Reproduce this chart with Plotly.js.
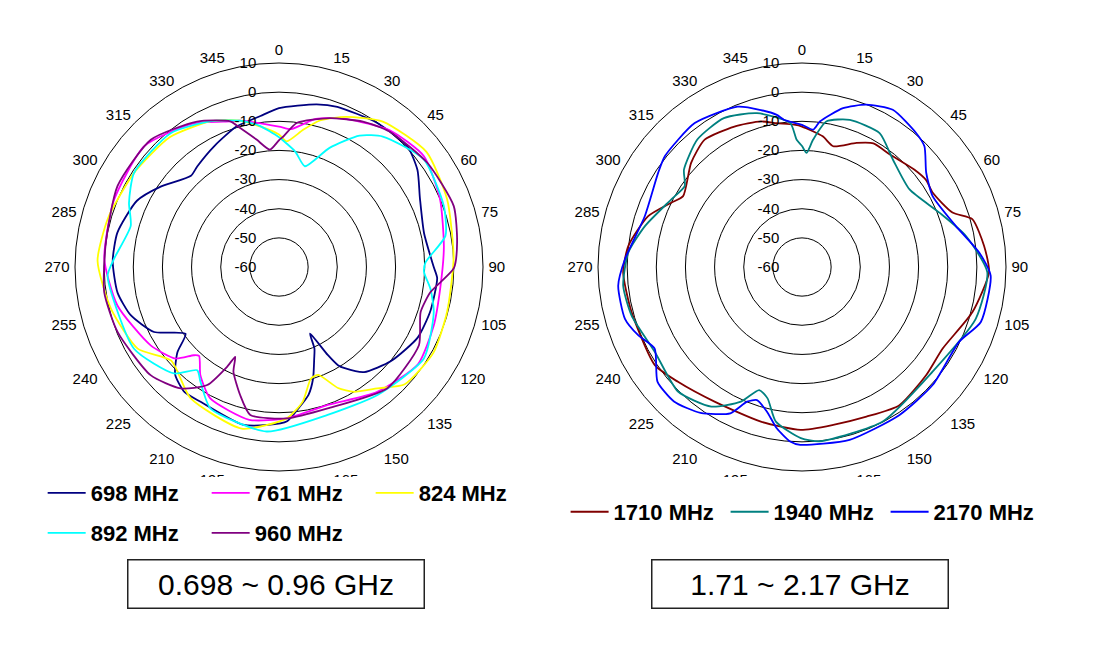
<!DOCTYPE html>
<html>
<head>
<meta charset="utf-8">
<script src="https://cdn.plot.ly/plotly-3.0.1.min.js"></script>
<style>
  html, body { margin: 0; padding: 0; background: #fff; }
  #chart { width: 1094px; height: 653px; }
</style>
</head>
<body>
<div id="chart"></div>
<script>
// radiation patterns, dB vs angle (deg, clockwise from top)
var theta698 = [0, 13, 20, 34, 47, 55, 64, 77, 90, 94, 106, 117, 130, 141, 147, 149, 151, 155, 156.5, 159, 163, 167, 172, 177, 184, 193, 210, 217, 224, 230, 234.5, 242.5, 252, 261, 272, 282, 295, 304, 316, 321, 332, 343, 353, 360];
var r698 = [-5.5, -2.7, -1.5, -0.2, 0.4, -2, -6.2, -8.9, -6.9, -5.6, -5.9, -6.6, -9.8, -13.6, -18.6, -20.7, -25.5, -34.8, -29.5, -26.3, -20, -15, -11.2, -7, -5.7, -4.5, -6.5, -6.2, -8.7, -14.5, -20.6, -11.7, -6.5, -3.9, -2.9, -3.3, -6.2, -10.8, -16.5, -15.5, -12.9, -9.7, -7.8, -5.5];

var theta761 = [0, 5, 14, 24.5, 39, 52.6, 67, 83, 97, 111, 125, 142, 160.5, 177, 191, 207.6, 216, 222, 224, 228.5, 238.6, 256.6, 272.6, 292, 312, 329, 341.5, 345, 360];
var r761 = [-11.8, -12.5, -7.6, -4.2, 0.4, 2.6, 0, -3, -4.2, -3.2, -1.8, -5.5, -9.8, -8, -6.6, -9.1, -14.1, -19, -17.9, -12.6, -8.4, -3, 0, 1.1, 2.1, -2.6, -7.3, -8, -11.8];

var theta824 = [0, 3.5, 10, 15.6, 24, 35.5, 52, 68, 87, 105, 119, 133, 141, 149, 154, 160, 164, 170, 177, 193, 214, 229, 240, 256, 272, 286, 303, 320, 335, 345, 356, 360];
var r824 = [-14.5, -16.8, -12.2, -7.8, -3.6, 1.3, 4.2, 2.2, 0, -0.3, 0.6, -1, -6.4, -10, -13.8, -20.6, -20.2, -13.1, -8, -3.1, -5.7, -11, -4, -0.6, 2.3, 1, -0.7, -1.8, -4.8, -8, -12.8, -14.5];

var theta892 = [0, 8, 14.4, 23, 31.5, 38.5, 53.4, 69.7, 79.4, 88.2, 92, 98.2, 106.2, 122.3, 142.4, 161.8, 184.3, 205.9, 214.4, 218.4, 224.6, 240.6, 267, 272.8, 285.5, 293.2, 303, 321, 335, 345, 352, 360];
var r892 = [-15.5, -20, -24.3, -15.6, -7.1, -2.8, 1.9, 0.3, -1.9, -9.7, -10.2, -7.5, -4.7, -1.2, -4.6, -6.6, -3.4, -6.1, -12.3, -14.8, -8.7, -2.9, -1.1, -3.3, -7.2, -4, -0.7, -0.9, -4.8, -8, -11, -15.5];

var theta960 = [0, 1.9, 7, 18.8, 30, 39.2, 54.9, 70.8, 82.1, 90.4, 99.4, 107.7, 119.2, 138.2, 161, 177, 191, 196.9, 203.5, 206, 207.5, 211.3, 219, 229.9, 248, 261.8, 278, 296.6, 314.8, 330.6, 341.5, 344.4, 350, 355.6, 360];
var r960 = [-16.5, -15.2, -10.2, -6, -2.4, 0, 2.2, 3.5, 1.7, 0, -7.3, -9, -5, -4.2, -8.7, -8, -8.3, -14.1, -20.8, -25.7, -21.4, -12.6, -6.4, -2.4, -0.3, 0.6, 0, 2, 2, -2.7, -7.3, -10.5, -15.6, -19.6, -16.5];

var theta1710 = [0, 9, 14.5, 23.7, 30, 38, 49, 55, 60.4, 70.1, 74.3, 83.4, 91.6, 104.8, 120.1, 131.1, 144.8, 156.7, 168.8, 180.5, 194.9, 213, 227.2, 236.3, 255.2, 268.3, 277, 288.3, 296.2, 300.8, 313.2, 322.6, 334.3, 344.2, 350, 356.8, 360];
var r1710 = [-11.8, -14.6, -17.2, -13.5, -11, -11, -9, -8, -8.4, -5.1, 0.7, 2.9, 4.2, 0.5, -4.2, -3.5, -2, -4.1, -4.8, -4.1, -5.1, -4.9, -2, 0.7, 0.5, 1.4, 0, -4.4, -10, -12.5, -7.8, -5, -6.5, -8.1, -9.9, -11.1, -11.8];

var theta1940 = [0, 2.3, 5, 9.6, 18, 30.1, 40.2, 54.2, 68.4, 79.2, 91.6, 106.6, 128.7, 152.4, 174.1, 180.4, 189.6, 194.7, 199.2, 204.4, 213, 224.9, 240, 254.1, 264, 274.8, 284.6, 297.4, 304.6, 309.5, 320.6, 332.3, 343.7, 355.3, 357.6, 360];
var r1940 = [-18.5, -20.8, -16.1, -9.3, -6.9, -6.9, -11.7, -14.5, -9.3, -2.8, 3.6, 2.2, -2.6, -0.2, 0.1, -1.3, -6.2, -13.4, -15.3, -9.3, -2.9, 0.3, -1.7, 0.8, 1.7, -0.2, -4.3, -9.5, -11.1, -7.5, -3.4, -2.3, -5, -10.4, -16.3, -18.5];

var theta2170 = [0, 4.7, 7, 14.5, 21.6, 30, 40.4, 45.4, 52.8, 61.5, 75, 85.3, 92.6, 107.1, 115.5, 132, 146.6, 164.6, 180.6, 183.9, 188.9, 193.7, 198.7, 202.2, 206.1, 214.8, 223.6, 231.6, 241, 247.4, 253.7, 264.2, 272.6, 288, 303.2, 309, 323.3, 338.1, 345.3, 350.6, 353, 360];
var r2170 = [-11.2, -12.7, -9.7, -3.7, -0.1, 2.3, 0.4, -1, -6.5, -9, -5.4, 1, 4.8, 4.2, -0.3, 0.4, 0.8, 1.5, 1, 0, -4, -9, -11.8, -10.1, -4.1, 1, 3.7, 3.3, -2.2, 0.9, 3.3, 3.4, 0.8, -3.3, -1, 0.5, 1.6, -0.7, -4.3, -7.1, -9.1, -11.2];

// 180 sits under the legend in the original, so it is not labelled
var angleTicks = [0, 15, 30, 45, 60, 75, 90, 105, 120, 135, 150, 165, 195, 210, 225, 240, 255, 270, 285, 300, 315, 330, 345];
var radialTicks = [-60, -50, -40, -30, -20, -10, 0, 10];
var radialText = ['-60', '-50', '-40', '-30', '-20', '-10', '0', '10'];

function trace(name, theta, r, color, sub, leg) {
  return {
    type: 'scatterpolar',
    mode: 'lines',
    name: name,
    theta: theta,
    r: r,
    subplot: sub,
    legend: leg,
    line: {color: color, width: 1.8, shape: 'spline', smoothing: 0.6}
  };
}

// invisible carrier so the label-only subplots get drawn
function labelCarrier(sub) {
  return {
    type: 'scatterpolar', mode: 'markers', subplot: sub,
    r: radialTicks, theta: radialTicks.map(function() { return 0; }),
    marker: {opacity: 0}, showlegend: false, hoverinfo: 'skip'
  };
}

var data = [
  trace('698 MHz', theta698, r698, '#000080', 'polar', 'legend'),
  trace('761 MHz', theta761, r761, '#FF00FF', 'polar', 'legend'),
  trace('824 MHz', theta824, r824, '#FFFF00', 'polar', 'legend'),
  trace('892 MHz', theta892, r892, '#00FFFF', 'polar', 'legend2'),
  trace('960 MHz', theta960, r960, '#800080', 'polar', 'legend2'),
  trace('1710 MHz', theta1710, r1710, '#800000', 'polar2', 'legend3'),
  trace('1940 MHz', theta1940, r1940, '#008080', 'polar2', 'legend3'),
  trace('2170 MHz', theta2170, r2170, '#0000FF', 'polar2', 'legend3'),
  labelCarrier('polar3'),
  labelCarrier('polar4')
];

var tickFont = {family: 'Liberation Sans, Arial, sans-serif', size: 15, color: '#000'};
var yDom = [0.2787, 0.9035];
var labelShift = 20 / 1094;

function polarAxes(xd) {
  return {
    domain: {x: xd, y: yDom},
    bgcolor: 'rgba(0,0,0,0)',
    radialaxis: {
      range: [-60, 10],
      tickvals: radialTicks,
      angle: 90,
      showticklabels: false,
      showline: false,
      ticks: '',
      gridcolor: '#000',
      gridwidth: 1
    },
    angularaxis: {
      rotation: 90,
      direction: 'clockwise',
      tickvals: angleTicks,
      showgrid: false,
      showline: true,
      linecolor: '#000',
      linewidth: 1,
      ticks: 'outside',
      ticklen: 2,
      tickcolor: 'rgba(0,0,0,0)',
      tickfont: tickFont
    }
  };
}

// same circle, nudged left, carrying only the dB labels
function radialLabels(xd) {
  return {
    domain: {x: [xd[0] - labelShift, xd[1] - labelShift], y: yDom},
    bgcolor: 'rgba(0,0,0,0)',
    radialaxis: {
      range: [-60, 10],
      tickmode: 'array',
      tickvals: radialTicks,
      ticktext: radialText,
      angle: 90,
      side: 'counterclockwise',
      tickangle: 90,
      showgrid: false,
      showline: false,
      ticks: '',
      tickfont: tickFont
    },
    angularaxis: {visible: false, rotation: 90, direction: 'clockwise'}
  };
}

var legFont = {family: 'Liberation Sans, Arial, sans-serif', size: 22, color: '#000', weight: 'bold'};

function legendAt(x, y, w) {
  return {orientation: 'h', x: x, y: y, xanchor: 'left', yanchor: 'middle',
          itemwidth: 38, entrywidth: w, font: legFont, bgcolor: 'rgba(0,0,0,0)'};
}

var boxFont = {family: 'Liberation Sans, Arial, sans-serif', size: 30, color: '#000'};
var leftDom = [0.06856, 0.4415];
var rightDom = [0.5466, 0.9196];

var layout = {
  width: 1094,
  height: 653,
  margin: {l: 0, r: 0, t: 0, b: 0},
  paper_bgcolor: '#fff',
  font: {family: 'Liberation Sans, Arial, sans-serif', color: '#000'},
  polar: polarAxes(leftDom),
  polar2: polarAxes(rightDom),
  polar3: radialLabels(leftDom),
  polar4: radialLabels(rightDom),
  legend: legendAt(0.039, 0.245, 111),
  legend2: legendAt(0.039, 0.1838, 111),
  legend3: legendAt(0.517, 0.216, 107),
  shapes: [
    {type: 'rect', xref: 'paper', yref: 'paper', x0: 0.03, x1: 0.48, y0: 0.19, y1: 0.2695,
     fillcolor: '#fff', line: {width: 0}, layer: 'above'},
    {type: 'rect', xref: 'paper', yref: 'paper', x0: 0.51, x1: 0.97, y0: 0.19, y1: 0.2695,
     fillcolor: '#fff', line: {width: 0}, layer: 'above'}
  ],
  annotations: [
    {text: '0.698 ~ 0.96 GHz', xref: 'paper', yref: 'paper', x: 275.5 / 1094, y: (653 - 583.5) / 653,
     xanchor: 'center', yanchor: 'middle',
     showarrow: false, width: 295, height: 47, borderpad: 0, bordercolor: '#222', borderwidth: 1.5,
     bgcolor: '#fff', font: boxFont},
    {text: '1.71 ~ 2.17 GHz', xref: 'paper', yref: 'paper', x: 799.5 / 1094, y: (653 - 583.5) / 653,
     xanchor: 'center', yanchor: 'middle',
     showarrow: false, width: 295, height: 47, borderpad: 0, bordercolor: '#222', borderwidth: 1.5,
     bgcolor: '#fff', font: boxFont}
  ],
  showlegend: true
};

Plotly.newPlot('chart', data, layout, {displayModeBar: false, staticPlot: true});
</script>
</body>
</html>
